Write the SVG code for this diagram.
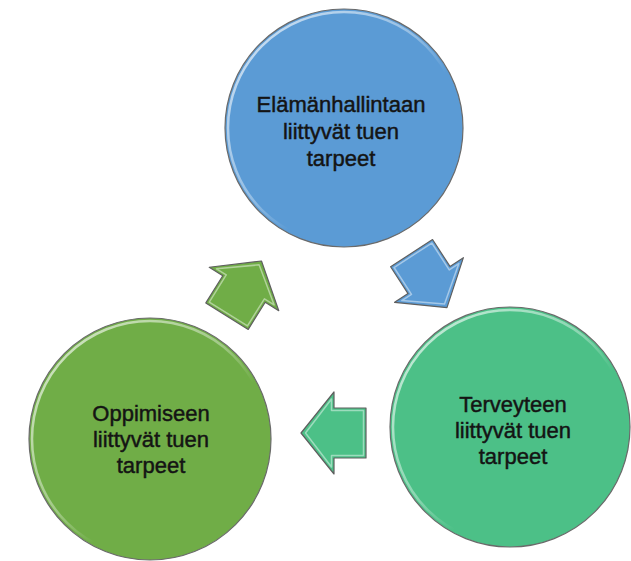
<svg xmlns="http://www.w3.org/2000/svg" width="631" height="561" viewBox="0 0 631 561">
  <defs>
    <linearGradient id="hl" x1="0" y1="0" x2="1" y2="1">
      <stop offset="0" stop-color="#ffffff" stop-opacity="0.75"/>
      <stop offset="0.45" stop-color="#ffffff" stop-opacity="0.35"/>
      <stop offset="0.6" stop-color="#ffffff" stop-opacity="0"/>
    </linearGradient>
    <polygon id="arrow" points="-32,-25 0,-25 0,-41 33,0 0,41 0,25 -32,25"/>
    <polygon id="arrowIn" points="-29.5,-22.5 2.5,-22.5 2.5,-34 28.5,0 2.5,34 2.5,22.5 -29.5,22.5"/>
  </defs>
  <style>
    .circle { stroke: #6a6a6a; stroke-width: 1.2; }
    .ring { fill: none; stroke: url(#hl); stroke-width: 2.5; }
    .arr { stroke: #5f5f5f; stroke-width: 1.2; stroke-linejoin: round; }
    .arrIn { fill: none; stroke: #ffffff; stroke-opacity: 0.45; stroke-width: 1.5; stroke-linejoin: round; }
    .lbl { font-family: "Liberation Sans", Arial, sans-serif; font-size: 22px; fill: #141414; stroke: #141414; stroke-width: 0.45; text-anchor: middle; }
  </style>
  <rect width="631" height="561" fill="#ffffff"/>

  <g id="node-elamanhallinta">
    <circle class="circle" cx="344" cy="128" r="119" fill="#5b9bd5"/>
    <circle class="ring" cx="344" cy="128" r="116"/>
    <text class="lbl" x="341" y="112">Elämänhallintaan</text>
    <text class="lbl" x="341" y="139">liittyvät tuen</text>
    <text class="lbl" x="341" y="166">tarpeet</text>
  </g>

  <g id="node-terveys">
    <circle class="circle" cx="510" cy="427" r="120" fill="#4cc087"/>
    <circle class="ring" cx="510" cy="427" r="117"/>
    <text class="lbl" x="513" y="412">Terveyteen</text>
    <text class="lbl" x="513" y="438">liittyvät tuen</text>
    <text class="lbl" x="513" y="464">tarpeet</text>
  </g>

  <g id="node-oppiminen">
    <circle class="circle" cx="150" cy="439" r="121" fill="#70ad47"/>
    <circle class="ring" cx="150" cy="439" r="118"/>
    <text class="lbl" x="151" y="421">Oppimiseen</text>
    <text class="lbl" x="151" y="447">liittyvät tuen</text>
    <text class="lbl" x="151" y="473">tarpeet</text>
  </g>

  <g id="connectors">
    <g transform="translate(429,280) rotate(57)">
      <use href="#arrow" class="arr" fill="#5b9bd5"/>
      <use href="#arrowIn" class="arrIn"/>
    </g>
    <g transform="translate(334,433) rotate(180)">
      <use href="#arrow" class="arr" fill="#4cc087"/>
      <use href="#arrowIn" class="arrIn"/>
    </g>
    <g transform="translate(244,289) rotate(-58)">
      <use href="#arrow" class="arr" fill="#70ad47"/>
      <use href="#arrowIn" class="arrIn"/>
    </g>
  </g>
</svg>
